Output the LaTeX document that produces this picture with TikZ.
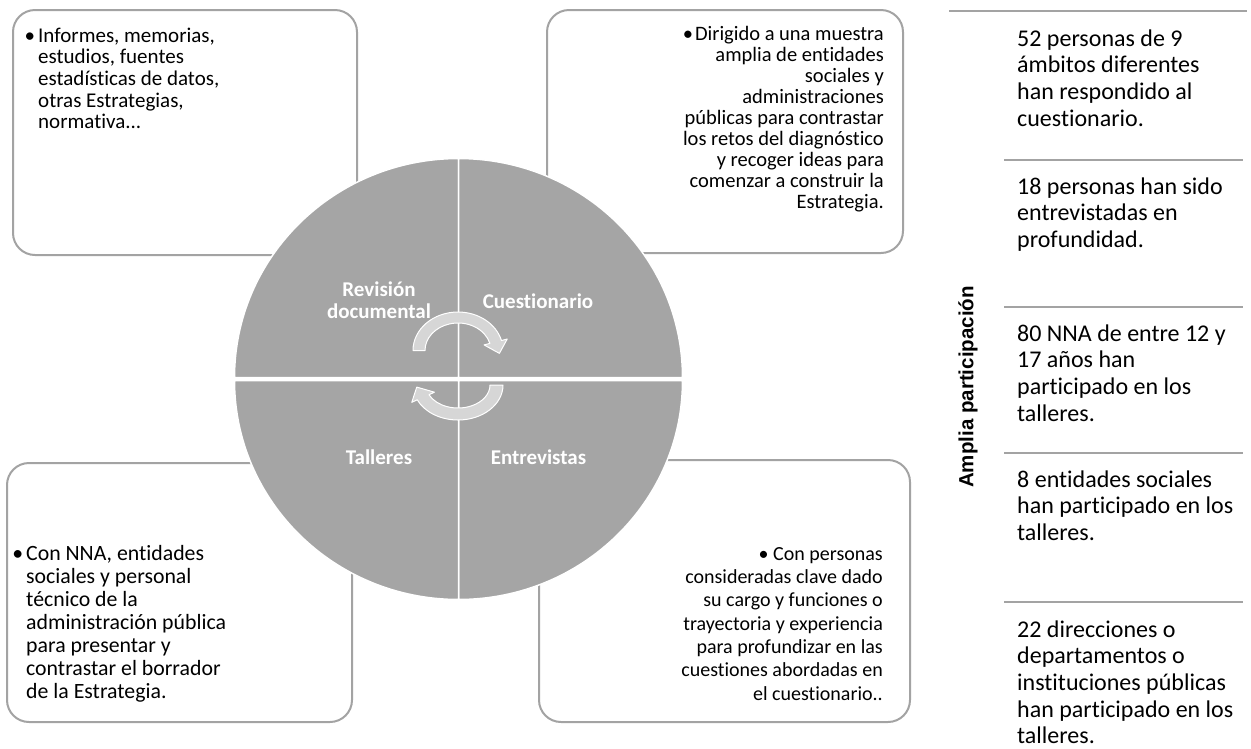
\documentclass[tikz,border=0pt]{standalone}
\usepackage{fontspec}
\setmainfont{Carlito}[Ligatures=NoCommon]
\newfontfamily\arialfont{Liberation Sans}
\usetikzlibrary{calc,positioning}
\definecolor{pie}{HTML}{A5A5A5}
\definecolor{cycfill}{HTML}{D6D6D6}
\definecolor{frame}{HTML}{A3A3A3}
\tikzset{
  box/.style={draw=frame, line width=2pt, rounded corners=22pt, fill=white, inner sep=0pt},
  quad/.style={fill=pie, draw=white, line width=1.5pt},
  cycarrow/.style={fill=cycfill, draw=white, line width=1pt, line join=round},
  qlabel/.style={text=white, inner sep=0pt, align=center, font=\fontsize{21}{20.7}\selectfont\bfseries},
  stat/.style={anchor=north west, align=left, inner sep=0pt, font=\fontsize{24}{26.6}\selectfont},
  sepline/.style={draw=frame, line width=2.5pt},
}
\begin{document}
\begin{tikzpicture}[x=1pt,y=-1pt]
\useasboundingbox (0,0) rectangle (1251,748);

\node[box, minimum width=344pt, minimum height=245pt] (tl) at (185,132.5) {};
\node[box, minimum width=356pt, minimum height=243pt] (tr) at (725,131.5) {};
\node[box, minimum width=345pt, minimum height=259pt] (bl) at (179.5,592.5) {};
\node[box, minimum width=371pt, minimum height=262pt] (br) at (724.5,591) {};

\node[anchor=north west, align=left, inner sep=0pt, font=\fontsize{21}{21.6}\selectfont] (tltext) at (38,26.9)
  {\strut\llap{\textbullet\hspace{3pt}}Informes, memorias,\\estudios, fuentes\\estadísticas de datos,\\otras Estrategias,\\normativa...};
\node[anchor=north east, align=right, inner sep=0pt, font=\fontsize{20.5}{21.1}\selectfont] (trtext) at (884,25.2)
  {\strut\textbullet\hspace{2pt}Dirigido a una muestra\\amplia de entidades\\sociales y\\administraciones\\públicas para contrastar\\los retos del diagnóstico\\y recoger ideas para\\comenzar a construir la\\Estrategia.};
\node[anchor=north west, align=left, inner sep=0pt, font=\fontsize{21.8}{23}\selectfont] (bltext) at (26,543.9)
  {\strut\llap{\textbullet\hspace{3pt}}Con NNA, entidades\\sociales y personal\\técnico de la\\administración pública\\para presentar y\\contrastar el borrador\\de la Estrategia.};
\node[anchor=north east, align=right, inner sep=0pt, font=\fontsize{20}{23.3}\selectfont] (brtext) at (883,543.7)
  {\strut\textbullet{} Con personas\\consideradas clave dado\\su cargo y funciones o\\trayectoria y experiencia\\para profundizar en las\\cuestiones abordadas en\\el cuestionario..};

\coordinate (c) at (458.5,379);
\draw[quad] ([yshift=1.5pt]c) -- ++(-224,0) arc[start angle=180, end angle=270, x radius=224, y radius=219] -- cycle;
\draw[quad] ([yshift=1.5pt]c) -- ++(0,-219) arc[start angle=270, end angle=360, x radius=224, y radius=219] -- cycle;
\draw[quad] ([yshift=-1.5pt]c) -- ++(224,0) arc[start angle=0, end angle=90, x radius=224, y radius=219] -- cycle;
\draw[quad] ([yshift=-1.5pt]c) -- ++(0,219) arc[start angle=90, end angle=180, x radius=224, y radius=219] -- cycle;

\node[qlabel, anchor=north] (rev) at (379,281.5) {\strut Revisión\\documental};
\node[qlabel, anchor=base] (cue) at (538,308) {Cuestionario};
\node[qlabel, anchor=base] (tal) at (379,464) {Talleres};
\node[qlabel, anchor=base] (ent) at (538.5,464) {Entrevistas};

\coordinate (a1) at (458,350.5);
\draw[cycarrow] ($(a1)+(180:45 and 38.5)$) arc[start angle=180, end angle=345, x radius=45, y radius=38.5]
  -- ($(a1)+(345:51 and 44.5)$) -- ($(a1)+(345:39 and 33)+(72:12)$)
  -- ($(a1)+(345:27 and 21.5)$) -- ($(a1)+(345:33 and 27.5)$)
  arc[start angle=345, end angle=180, x radius=33, y radius=27.5] -- cycle;
\coordinate (a2) at (458,385);
\draw[cycarrow] ($(a2)+(0:45 and 35)$) arc[start angle=0, end angle=155, x radius=45, y radius=35]
  -- ($(a2)+(155:51 and 41)$) -- ($(a2)+(155:38.5 and 29)+(238:12)$)
  -- ($(a2)+(155:26 and 17)$) -- ($(a2)+(155:32 and 23)$)
  arc[start angle=155, end angle=0, x radius=32, y radius=23] -- cycle;

\draw[sepline] (949,11) -- (1247,11);
\draw[sepline] (1004,160) -- (1243,160);
\draw[sepline] (1004,307) -- (1243,307);
\draw[sepline] (1004,453) -- (1243,453);
\draw[sepline] (1004,602) -- (1243,602);

\node[rotate=90, inner sep=0pt, font=\arialfont\bfseries\fontsize{20.5}{22}\selectfont] (amp) at (968,387) {Amplia participación};

\node[stat] (s1) at (1017,27.4) {\strut 52 personas de 9\\ámbitos diferentes\\han respondido al\\cuestionario.};
\node[stat] (s2) at (1017,175.4) {\strut 18 personas han sido\\entrevistadas en\\profundidad.};
\node[stat] (s3) at (1017,322.4) {\strut 80 NNA de entre 12 y\\17 años han\\participado en los\\talleres.};
\node[stat] (s4) at (1017,468.4) {\strut 8 entidades sociales\\han participado en los\\talleres.};
\node[stat] (s5) at (1017,618.4) {\strut 22 direcciones o\\departamentos o\\instituciones públicas\\han participado en los\\talleres.};
\end{tikzpicture}
\end{document}
